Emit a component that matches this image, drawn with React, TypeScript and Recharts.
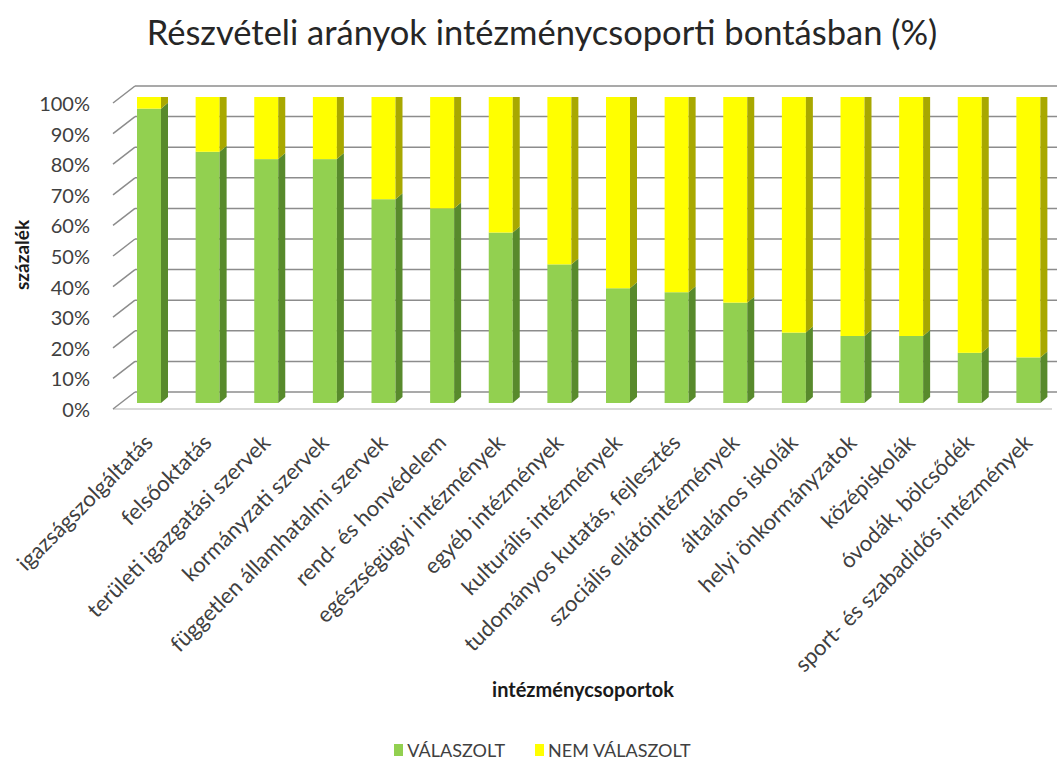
import React from "react";
import { BarChart, Bar, XAxis, YAxis, CartesianGrid, Legend, Customized } from "recharts";

const categories = [
  "igazságszolgáltatás",
  "felsőoktatás",
  "területi igazgatási szervek",
  "kormányzati szervek",
  "független államhatalmi szervek",
  "rend- és honvédelem",
  "egészségügyi intézmények",
  "egyéb intézmények",
  "kulturális intézmények",
  "tudományos kutatás, fejlesztés",
  "szociális ellátóintézmények",
  "általános iskolák",
  "helyi önkormányzatok",
  "középiskolák",
  "óvodák, bölcsődék",
  "sport- és szabadidős intézmények",
];
const valaszolt = [96.2, 82.1, 79.7, 79.7, 66.6, 63.6, 55.7, 45.3, 37.5, 36.2, 32.8, 23.0, 21.9, 21.9, 16.4, 14.9];
const nemValaszolt = [3.8, 17.9, 20.3, 20.3, 33.4, 36.4, 44.3, 54.7, 62.5, 63.8, 67.2, 77.0, 78.1, 78.1, 83.6, 85.1];
const yTicks = [0, 10, 20, 30, 40, 50, 60, 70, 80, 90, 100];

const data = categories.map((name, i) => ({ name, v: valaszolt[i], n: nemValaszolt[i] }));

const FONT = "Lato, 'Open Sans', sans-serif";
const DX = 7;
const DY = 6;

const GreenShape = (p: any) => {
  const { x, y, width: w, height: h } = p;
  return (
    <g>
      <rect x={x} y={y} width={w} height={h} fill="#92d050" />
      <polygon points={`${x + w},${y} ${x + w + DX},${y - DY} ${x + w + DX},${y + h - DY} ${x + w},${y + h}`} fill="#588a2c" />
    </g>
  );
};

const YellowShape = (p: any) => {
  const { x, y, width: w, height: h } = p;
  return (
    <g>
      <rect x={x} y={y} width={w} height={h} fill="#ffff00" />
      <polygon points={`${x + w},${y} ${x + w + DX},${y - DY} ${x + w + DX},${y + h - DY} ${x + w},${y + h}`} fill="#a8a800" />
      <polygon points={`${x},${y} ${x + DX},${y - DY} ${x + w + DX},${y - DY} ${x + w},${y}`} fill="#c4c400" />
    </g>
  );
};

const gridLine = (p: any) => {
  const y = p.y1;
  const x1 = p.x1;
  const x2 = p.x2;
  const isBottom = p.index === 0;
  return (
    <g key={p.key}>
      {isBottom && <line x1={x1 - 7} y1={y + 6} x2={x2 - 6} y2={y + 6} stroke="#d9d9d9" strokeWidth={2} />}
      <line x1={x1 - 7} y1={y + 6} x2={x1 + 15} y2={y - 11} stroke="#8c8c8c" strokeWidth={1.5} />
      <line x1={x1 + 15} y1={y - 11} x2={x2 - 1} y2={y - 11} stroke="#8c8c8c" strokeWidth={1.5} />
    </g>
  );
};

const YTick = (p: any) => {
  const { x, y, payload } = p;
  return (
    <text x={x - 28} y={y + 6} textAnchor="end" dominantBaseline="central" fontSize={20} fontFamily={FONT} fill="#404040">
      {payload.value}%
    </text>
  );
};

const XTick = (p: any) => {
  const { x, y, payload } = p;
  return (
    <g transform={`translate(${x - 1},${y + 33})`}>
      <text textAnchor="end" dominantBaseline="central" transform="rotate(-45)" fontSize={22} fontFamily={FONT} fill="#404040">
        {payload.value}
      </text>
    </g>
  );
};

const Title = () => (
  <text x={542} y={31} textAnchor="middle" dominantBaseline="central" fontSize={34.5} fontFamily={FONT} fill="#262626">
    Részvételi arányok intézménycsoporti bontásban (%)
  </text>
);

const YLabel = () => (
  <text x={21} y={255} transform="rotate(-90, 21, 255)" textAnchor="middle" dominantBaseline="central" fontSize={19} fontWeight="bold" fontFamily={FONT} fill="#1a1a1a">
    százalék
  </text>
);

const XLabel = (p: any) => {
  const vb = p.viewBox || { x: 120, y: 403, width: 938 };
  return (
    <text x={vb.x + vb.width / 2 - 6} y={vb.y + 286} textAnchor="middle" dominantBaseline="central" fontSize={20} fontWeight="bold" fontFamily={FONT} fill="#1a1a1a">
      intézménycsoportok
    </text>
  );
};

const LegendContent = () => (
  <div style={{ height: 24, display: "flex", justifyContent: "center", alignItems: "center", fontFamily: FONT, fontSize: 18, color: "#404040", paddingLeft: 22, boxSizing: "border-box" }}>
    <span style={{ display: "inline-block", width: 9, height: 12, background: "#92d050", marginRight: 4 }} />
    <span style={{ marginRight: 30 }}>VÁLASZOLT</span>
    <span style={{ display: "inline-block", width: 9, height: 12, background: "#ffff00", marginRight: 4 }} />
    <span>NEM VÁLASZOLT</span>
  </div>
);

export default function App() {
  return (
    <div style={{ position: "absolute", left: 0, top: 0, background: "#fff" }}>
      <BarChart width={1063} height={762} data={data} margin={{ top: 97, right: 5, left: 20, bottom: 0 }}>
        <CartesianGrid vertical={false} horizontal={gridLine} />
        <XAxis
          dataKey="name"
          interval={0}
          axisLine={false}
          tickLine={false}
          tickSize={0}
          height={335}
          tick={XTick}
          label={<XLabel />}
        />
        <YAxis
          domain={[0, 100]}
          ticks={yTicks}
          width={100}
          axisLine={false}
          tickLine={false}
          tickSize={0}
          tick={YTick}
          allowDataOverflow
        />
        <Legend verticalAlign="bottom" wrapperStyle={{ left: 0, width: 1063 }} content={<LegendContent />} />
        <Bar dataKey="v" name="VÁLASZOLT" stackId="a" barSize={24} shape={GreenShape} isAnimationActive={false} />
        <Bar dataKey="n" name="NEM VÁLASZOLT" stackId="a" barSize={24} shape={YellowShape} isAnimationActive={false} />
        <Customized component={Title} />
        <Customized component={YLabel} />
      </BarChart>
    </div>
  );
}
